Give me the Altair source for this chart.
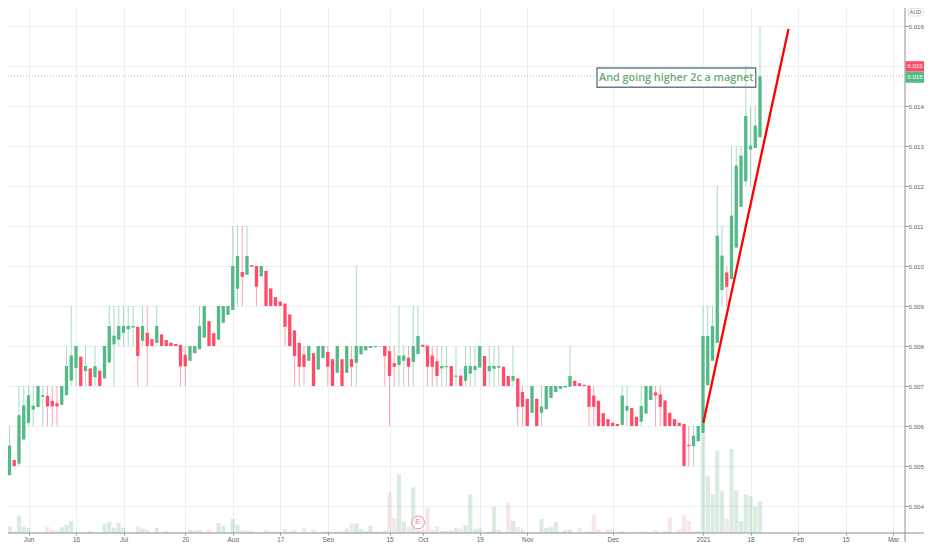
import altair as alt
import pandas as pd

# Candle direction (1 = up/green, 0 = down/red), values in thousandths of an AUD
up = [1,1,1,0,1,1,1,1,1,1, 0,0,0,1,1,1,1,0,1,0, 1,0,1,1,1,1,1,1,1,0, 1,0,0,1,0,0,0,0,0,0,
      1,1,1,1,0,0,1,1,1,1, 1,0,1,0,0,1,0,0,0,0, 0,0,0,0,0,1,0,1,1,0, 0,1,0,1,0,1,1,1,1,1,
      1,0,0,0,1,1,0,1,1,0, 0,0,0,1,1,0,1,0,1,1, 1,1,0,1,1,1,0,0,1,0, 0,0,1,0,1,1,1,1,1,1,
      1,0,0,0,0,0,0,0,0,0, 0,1,1,0,0,1,1,1,0,0, 0,0,0,0,0,0,1,1,1,1, 1,1,1,0,1,1,1,1,1,1, 1]
top = [4.77,5.01,5.51,5.15,6.27,6.51,6.77,6.51,7,6.77,
       6.75,6.63,6.57,7,7.5,7.76,8,7.73,7.5,7.44,
       7.5,7.38,8,8.5,8.26,8.5,8.5,8.5,8.5,8.48,
       8.5,8.33,8.17,8.5,8.29,8.15,8.08,8.05,8.03,7.78,
       8,8,8.5,9,8.62,8.32,9,9,9,10,
       10.25,9.85,10.25,10.02,10,10,9.88,9.44,9.22,9.11,
       9.06,8.79,8.39,8.08,7.79,8,7.82,8,8,7.85,
       7.67,8,7.67,8,7.67,8,8,8,8,8,
       8,8,7.87,7.57,7.76,7.76,7.71,8,8.25,8.03,
       8.01,7.76,7.62,7.5,7.5,7.5,7.26,7.26,7.5,7.5,
       7.5,8,7.75,7.5,7.5,7.5,7.48,7.25,7.25,7.19,
       6.85,6.68,7,6.68,6.49,7,7,7,7,7,
       7.25,7.13,7.07,7.03,7.01,6.76,6.63,6.32,6.17,6.08,
       6.05,6.76,6.5,6.45,6.23,6.5,7,7,6.84,6.79,
       6.64,6.33,6.17,6.08,6.05,5.53,5.76,6,8.25,8.25,
       8.5,10.76,10.26,9.84,11.26,12.51,12.76,13.75,13.01,13.51,
       14.74]
bot = [4.27,4.52,4.77,5,5.06,5.66,6.08,6.41,6.47,6.73,
       6.49,6.49,6.49,6.53,6.77,7.14,7.45,7,7.37,7,
       7.22,7,7.19,7.59,8.04,8.16,8.33,8.42,8.46,7.75,
       8.13,8,8,8.08,8,8,8,8,7.49,7.49,
       7.63,7.82,7.92,8.21,8,8,8.16,8.58,8.78,8.9,
       9.43,9.73,9.78,9.98,9.48,9.74,9,9,9,9,
       8.48,8,7.75,7.48,7.48,7.63,7,7.41,7.7,7.48,
       7,7.33,7,7.33,7.48,7.58,7.79,7.89,7.95,7.97,
       7.99,7.75,7.25,7.48,7.52,7.63,7.48,7.6,7.8,7.98,
       7.48,7.48,7.25,7.44,7.47,7,7.23,7,7.13,7.31,
       7.4,7.46,7,7.37,7.43,7.46,7,7,7.13,6.48,
       6.48,6,6.33,6,6.33,6.42,6.7,6.85,6.93,6.96,
       6.98,7,7,7,6.48,6.48,6,6,6,6,
       6,6.03,6.38,6,6,6.11,6.31,6.65,6.76,6.48,
       6,6,6,6,5,5.5,5.5,5.62,5.82,7.02,
       7.63,8.08,9.4,9.48,9.67,10.46,11.48,12.12,12.91,12.95,
       13.22]
high = [4.77,5.01,6,5.15,7,7,7,7,7,7,
        7,7,7,7,8,9,8,7.73,8,7.44,
        8,7.38,8,9,9,9,9,9,9,8.48,
        9,9,8.17,9,8.29,8.15,8.08,8.05,8.03,8,
        8,8,9,9,8.62,8.32,9,9,9,11,
        11,11,11,10.02,10,10,9.88,9.44,9.22,9.11,
        9.06,8.79,8.39,8.08,8,8,7.82,8,8,8,
        7.67,8,7.67,8,8,10,8,8,8,8,
        8,8,8,8,9,8,8,9,9,8.03,
        8.01,8,8,8,8,7.5,8,7.26,8,8,
        8,8,7.75,8,8,8,7.48,7.25,8,7.19,
        7,6.68,7,6.68,7,7,7,7,7,7,
        8,7.13,7.07,7.03,7.01,7,6.63,6.32,6.17,6.08,
        6.05,7,7,6.45,6.23,7,7,7,7,7,
        6.64,6.33,6.17,6.08,6.05,6,6,6,9,9,
        9,12,11,10,13,13,13,15,14,14,
        16]
low = [4.27,4.52,4.77,5,5,5.66,6,6,6.47,6,
       6,6,6,6.53,6.77,7,7,7,7,7,
       7,7,7.19,7.59,7,8,8,8,8,7,
       8,7,8,8,8,8,8,8,7,7,
       7.63,7.82,7.92,8.21,8,8,8.16,8.58,8.78,8.9,
       9,9,9.78,9.98,9,9.74,9,9,9,9,
       8,8,7,7,7,7.63,7,7.41,7.7,7,
       7,7.33,7,7.33,7,7,7.79,7.89,7.95,7.97,
       7.99,7,6,7,7,7,7,7,7.8,7.98,
       7,7,7,7,7,7,7,7,7,7,
       7,7.46,7,7,7,7,7,7,7,6,
       6,6,6.33,6,6,6.42,6.7,6.85,6.93,6.96,
       6.98,7,7,7,6,6,6,6,6,6,
       6,6,6,6,6,6,6.31,6.65,6,6,
       6,6,6,6,5,5,5,5.62,5.82,7.02,
       7.63,8.08,9,9,9.67,10.46,11.48,12,12,12.95,
       13.22]
vol = [2,15,20,5,51,19,15,2,2,2, 18,9,7,18,25,36,2,2,2,6, 2,2,28,34,16,30,16,2,2,20,
       13,10,2,15,2,6,3,2,2,2, 10,7,9,2,9,2,30,22,2,43, 25,8,6,8,4,2,9,5,5,2,
       12,5,9,2,14,2,11,2,2,6, 2,5,5,13,29,29,12,7,21,4, 2,8,122,45,176,35,19,137,8,8,
       75,10,21,6,6,9,15,14,24,116, 12,14,2,4,79,10,5,91,36,18, 14,2,2,2,42,15,19,33,4,9,
       10,2,16,2,5,53,12,2,11,11, 2,5,2,2,4,4,5,2,9,3, 5,46,2,12,53,36,5,6,296,170,
       116,247,127,42,252,129,36,116,111,79, 96]

x_ticks = [6,16,26,39,49,59,69,82,89,101,111,129,148,158,168,178,188]
x_labels = ["Jun","16","Jul","20","Aug","17","Sep","15","Oct","19","Nov","Dec","2021","18","Feb","15","Mar"]
y_ticks = [v/1000 for v in range(4,17)]

trend_i = [148.07, 166.0]
trend_v = [6.08, 15.925]
note_text = "And going higher 2c a magnet"

UP, DOWN = "#53b987", "#ff4a68"
GRID, AXIS, LABEL = "#e9f0f5", "#8d9099", "#5d606b"
PX = 4.75
X_DOM = [8/PX, 905/PX]
Y_DOM = [3.325/1000, 16.45/1000]
W, H = 897, 525
PAD_B, PAD_R = 9, 19

df = pd.DataFrame({"i": range(len(up)), "up": up,
                   "top": [v/1000 for v in top], "bot": [v/1000 for v in bot],
                   "high": [v/1000 for v in high], "low": [v/1000 for v in low], "vol": vol})
df["c"] = ["u" if u else "d" for u in up]

xs = alt.Scale(domain=X_DOM, nice=False, zero=False, padding=0)
ys = alt.Scale(domain=Y_DOM, nice=False, zero=False, padding=0)
cs = alt.Scale(domain=["u","d"], range=[UP, DOWN])

expr = "[" + ",".join(f"'{l}'" for l in x_labels) + "][indexof([" + ",".join(map(str, x_ticks)) + "],datum.value)]"
x_axis = alt.Axis(values=x_ticks, labelExpr=expr, grid=True, gridColor=GRID, gridWidth=1, domain=False,
                  tickColor=AXIS, tickSize=2, labelFontSize=6.4, labelColor=LABEL, labelFont="Liberation Sans",
                  labelOverlap=False, labelFlush=False, labelBound=False, labelPadding=1, title=None)
y_axis = alt.Axis(orient="right", values=y_ticks, labelExpr="abs(datum.value-0.015)<0.0001 ? '' : format(datum.value,'.3f')",
                  grid=True, gridColor=GRID, gridWidth=1, domain=False,
                  tickColor=AXIS, tickSize=3, labelFontSize=6.2, labelColor=LABEL, labelFont="Liberation Sans",
                  labelOverlap=False, labelFlush=False, labelBound=False, labelPadding=0, title=None)
X = lambda f="i:Q": alt.X(f, scale=xs, axis=x_axis)
Y = lambda f: alt.Y(f, type="quantitative", scale=ys, axis=None)

price = alt.Chart(pd.DataFrame({"a":[X_DOM[0]],"b":[X_DOM[1]],"v":[14.75/1000]})).mark_rule(
    color=UP, strokeDash=[1,2], strokeWidth=1, opacity=0.6).encode(
    x=X("a:Q"), x2="b:Q", y=alt.Y("v:Q", scale=ys, axis=y_axis))

note_df = pd.DataFrame({"a":[597/PX],"b":[755.7/PX],"t":[14.95/1000],"d":[14.47/1000],"m":[676.3/PX],"v":[14.71/1000],"s":[note_text]})
box = alt.Chart(note_df).mark_rect(fill="white", stroke="#667c88", strokeWidth=1.4).encode(
    x=X("a:Q"), x2="b:Q", y=Y("t:Q"), y2="d:Q")
note = alt.Chart(note_df).mark_text(color="#68a871", font="Open Sans", fontSize=10.8, fontWeight=600).encode(
    x=X("m:Q"), y=Y("v:Q"), text="s:N")

volume = alt.Chart(df).mark_bar(size=4.2, opacity=0.22, clip=True).encode(
    x=X(), y=alt.Y("vol:Q", scale=alt.Scale(domain=[0, H*3], nice=False), axis=None),
    color=alt.Color("c:N", scale=alt.Scale(domain=["u","d"], range=["#58a868","#d98a98"]), legend=None))
wick = alt.Chart(df).mark_rule(strokeWidth=1, opacity=0.5, clip=True).encode(
    x=X(), y=Y("high:Q"), y2="low:Q", color=alt.Color("c:N", scale=cs, legend=None))
body = alt.Chart(df).mark_bar(size=3.3, clip=True).encode(
    x=X(), y=Y("top:Q"), y2="bot:Q", color=alt.Color("c:N", scale=cs, legend=None))

trend = alt.Chart(pd.DataFrame({"i":trend_i,"v":[v/1000 for v in trend_v]})).mark_line(color="#ff0000", strokeWidth=2.3).encode(
    x=X(), y=Y("v:Q"))

earn_df = pd.DataFrame({"i":[88],"v":[3.59/1000],"s":["E"]})
earn = alt.Chart(earn_df).mark_point(shape="circle", size=165, filled=False, stroke="#f58a9c", fill="white", fillOpacity=0.6, strokeWidth=1).encode(
    x=X(), y=Y("v:Q"))
earn_t = alt.Chart(earn_df).mark_text(color="#f27f92", fontSize=8, font="Liberation Sans").encode(x=X(), y=Y("v:Q"), text="s:N")

# right-hand scale furniture
axis_v = alt.Chart(pd.DataFrame({"k":[0]})).mark_rule(color=AXIS, strokeWidth=1).encode(
    x=alt.value(W), y=alt.value(0), y2=alt.value(H+PAD_B))
axis_h = alt.Chart(pd.DataFrame({"k":[0]})).mark_rule(color=AXIS, strokeWidth=1).encode(
    x=alt.value(0), x2=alt.value(W+PAD_R), y=alt.value(H))

tags = pd.DataFrame({"t":[15.12/1000,14.86/1000],"d":[14.86/1000,14.58/1000],"v":[15.0/1000,14.72/1000],
                     "s":["0.015","0.015"],"c":["d","u"]})
tag = alt.Chart(tags).mark_rect().encode(x=alt.value(W+0.5), x2=alt.value(W+PAD_R), y=Y("t:Q"), y2="d:Q",
    color=alt.Color("c:N", scale=cs, legend=None))
tag_t = alt.Chart(tags).mark_text(color="white", fontSize=6.2, font="Liberation Sans").encode(
    x=alt.value(W+10), y=Y("v:Q"), text="s:N")

aud_box = alt.Chart(pd.DataFrame({"k":[0]})).mark_rect(fill="white", stroke="#dfe2e9", cornerRadius=2).encode(
    x=alt.value(W+3), x2=alt.value(W+18), y=alt.value(0.5), y2=alt.value(8))
aud = alt.Chart(pd.DataFrame({"s":["AUD"]})).mark_text(color=LABEL, fontSize=5.6, font="Liberation Sans").encode(
    x=alt.value(W+10.5), y=alt.value(4.2), text="s:N")

chart = alt.layer(price, box, volume, wick, body, earn, earn_t, trend, note, axis_v, axis_h, tag, tag_t, aud_box, aud).resolve_scale(
    y="independent", color="independent"
).properties(
    width=W, height=H, autosize=alt.AutoSizeParams(type="none"),
    padding={"left":0,"top":0,"right":PAD_R,"bottom":PAD_B}, background="white"
).configure_view(stroke=None)

chart.save("out.html", embed_options={"renderer": "svg", "actions": False})
